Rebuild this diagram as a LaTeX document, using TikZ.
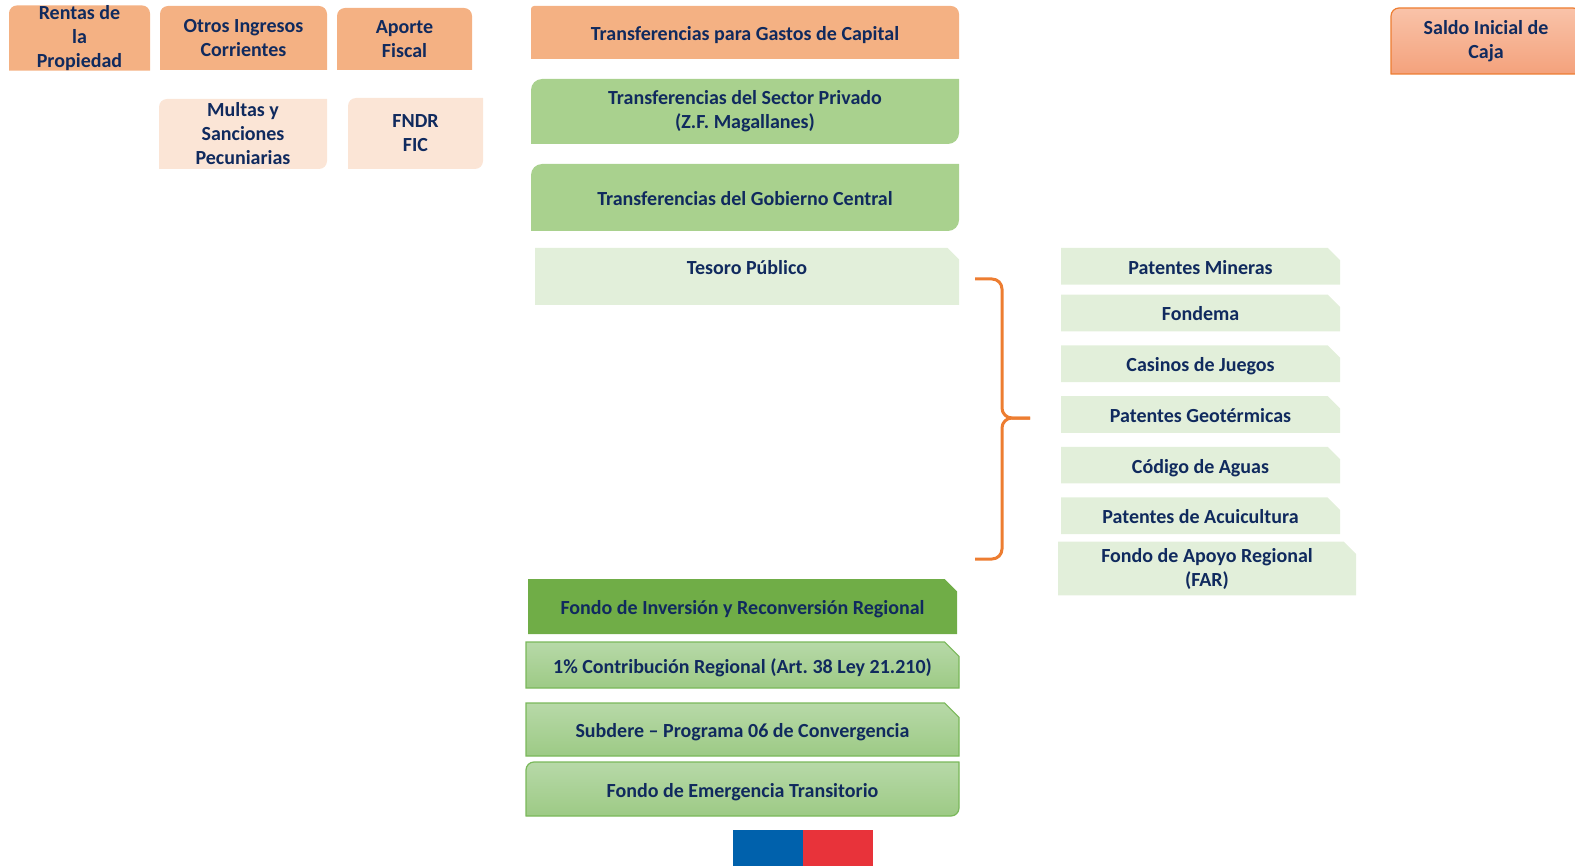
\documentclass[tikz,border=0pt]{standalone}
\usepackage{fontspec}
\setmainfont{Carlito}
\usetikzlibrary{positioning, shapes.misc, backgrounds}

\definecolor{navy}{HTML}{102A5E}
\definecolor{orangeA}{HTML}{F4B183}
\definecolor{peach}{HTML}{FBE5D6}
\definecolor{greenA}{HTML}{A9D18E}
\definecolor{greenL}{HTML}{E2EFDA}
\definecolor{greenD}{HTML}{70AD47}
\definecolor{gradTop}{HTML}{B7D9A8}
\definecolor{gradBot}{HTML}{9DCA85}
\definecolor{gradLine}{HTML}{7AB85A}
\definecolor{saldoTop}{HTML}{F9C3A9}
\definecolor{saldoBot}{HTML}{F4A27C}
\definecolor{orangeLine}{HTML}{ED7D31}
\definecolor{flagblue}{HTML}{0061AC}
\definecolor{flagred}{HTML}{E8333A}

% box behind a node, radii: top left, top right, bottom right, bottom left
\newcommand{\cornerbox}[6]{%
  \path[#1] ([yshift=-#3]#2.north west) arc[start angle=180, end angle=90, radius=#3]
    -- ([xshift=-#4]#2.north east) arc[start angle=90, end angle=0, radius=#4]
    -- ([yshift=#5]#2.south east) arc[start angle=0, end angle=-90, radius=#5]
    -- ([xshift=#6]#2.south west) arc[start angle=270, end angle=180, radius=#6]
    -- cycle;}

\tikzset{
  lbl/.style={font=\fontsize{10}{12}\selectfont\bfseries, text=navy, align=center, inner sep=0pt, outer sep=0pt},
  oneline/.style={text height=10pt, text depth=2pt},
  snipbox/.style={lbl, chamfered rectangle, chamfered rectangle corners=north east, chamfered rectangle xsep=#1},
  snipbox/.default=4pt,
  listbox/.style={snipbox=3pt, oneline, fill=greenL, minimum width=139.5pt, minimum height=18.25pt},
  gradbox/.style={top color=gradTop, bottom color=gradBot, draw=gradLine, line width=0.6pt},
  bracestyle/.style={draw=orangeLine, line width=1.5pt, rounded corners=5pt},
}

\begin{document}
\begin{tikzpicture}[x=0.5pt, y=0.5pt]
    \useasboundingbox (0,0) rectangle (1575,-866);

    % Nodes
    \node (rentas) [lbl, minimum width=70.5pt, minimum height=32pt] at (79.5,-38) {Rentas de\\la\\Propiedad};
    \node (otros) [lbl, minimum width=83.5pt, minimum height=32pt] at (243.5,-38) {Otros Ingresos\\Corrientes};
    \node (aporte) [lbl, minimum width=67.5pt, minimum height=31pt] at (404.5,-39) {Aporte\\Fiscal};
    \node (multas) [lbl, minimum width=84pt, minimum height=35pt] at (243,-134) {Multas y\\Sanciones\\Pecuniarias};
    \node (fndr) [lbl, minimum width=67.5pt, minimum height=35.5pt] at (415.5,-133.5) {FNDR\\FIC};

    \node (capital) [lbl, oneline, minimum width=214pt, minimum height=26.5pt] at (745,-32.5) {Transferencias para Gastos de Capital};
    \node (privado) [lbl, minimum width=214pt, minimum height=32.5pt] at (745,-111.5) {Transferencias del Sector Privado\\(Z.F. Magallanes)};
    \node (gobierno) [lbl, oneline, minimum width=214pt, minimum height=33.5pt] at (745,-197.5) {Transferencias del Gobierno Central};
    \node (tesoro) [snipbox=2.5pt, fill=greenL, text height=7pt, text depth=9.1pt, minimum width=212pt, minimum height=28.5pt] at (747,-276.5) {Tesoro Público};

    \node (saldo) [lbl, minimum width=95pt, minimum height=33pt] at (1486,-41) {Saldo Inicial de\\Caja};

    % Right column
    \node (mineras) [listbox] at (1200.5,-266.25) {Patentes Mineras};
    \node (fondema) [listbox, below=5pt of mineras] {Fondema};
    \node (casinos) [listbox, below=7pt of fondema] {Casinos de Juegos};
    \node (geotermicas) [listbox, below=7pt of casinos] {Patentes Geotérmicas};
    \node (aguas) [listbox, below=7pt of geotermicas] {Código de Aguas};
    \node (acuicultura) [listbox, below=7pt of aguas] {Patentes de Acuicultura};
    \node (far) [snipbox=3pt, fill=greenL, minimum width=149pt, minimum height=23.5pt] at (1207,-568.5) {Fondo de Apoyo Regional\\(FAR)};

    % Lower boxes
    \node (fir) [snipbox=3pt, oneline, fill=greenD, minimum width=214.5pt, minimum height=27.5pt] at (742.5,-606.5) {Fondo de Inversión y Reconversión Regional};
    \node (contribucion) [snipbox=4pt, oneline, gradbox, minimum width=216.5pt, minimum height=23pt] at (742.5,-665) {1\% Contribución Regional (Art.\ 38 Ley 21.210)};
    \node (subdere) [snipbox=4pt, oneline, gradbox, minimum width=216.5pt, minimum height=26.5pt] at (742.5,-729.5) {Subdere -- Programa 06 de Convergencia};
    \node (emergencia) [lbl, oneline, minimum width=216.5pt, minimum height=27pt] at (742.5,-789) {Fondo de Emergencia Transitorio};

    % Box fills
    \begin{pgfonlayer}{background}
    \begin{scope}
    \clip (0,0) rectangle (1575,-866);
    \cornerbox{fill=orangeA}{rentas}{4pt}{4pt}{0.01pt}{0.01pt}
    \cornerbox{fill=orangeA}{otros}{4pt}{4pt}{0.01pt}{0.01pt}
    \cornerbox{fill=orangeA}{aporte}{4pt}{4pt}{0.01pt}{0.01pt}
    \cornerbox{fill=peach}{multas}{4pt}{0.01pt}{4pt}{0.01pt}
    \cornerbox{fill=peach}{fndr}{4pt}{0.01pt}{4pt}{0.01pt}
    \cornerbox{fill=orangeA}{capital}{1.5pt}{4pt}{0.01pt}{0.01pt}
    \cornerbox{fill=greenA}{privado}{5.5pt}{0.01pt}{5.5pt}{0.01pt}
    \cornerbox{fill=greenA}{gobierno}{5.5pt}{0.01pt}{5.5pt}{0.01pt}
    \cornerbox{top color=saldoTop, bottom color=saldoBot, draw=orangeLine, line width=0.6pt}{saldo}{4pt}{4pt}{0.01pt}{0.01pt}
    \cornerbox{gradbox}{emergencia}{4pt}{0.01pt}{4pt}{0.01pt}
    \end{scope}
    \end{pgfonlayer}

    % Brace
    \coordinate (bracetop) at (975,-279);
    \coordinate (bracebot) at (975,-559);
    \coordinate (bracemid) at (1002,-418);
    \coordinate (bracetip) at (1030,-418);
    \draw [bracestyle] (bracetop) -| (bracemid) -- (bracetip);
    \draw [bracestyle] (bracebot) -| (bracemid) -- (bracetip);

    % Flag
    \fill[flagblue] (733,-830) rectangle (803,-866);
    \fill[flagred] (803,-830) rectangle (873,-866);

\end{tikzpicture}
\end{document}
